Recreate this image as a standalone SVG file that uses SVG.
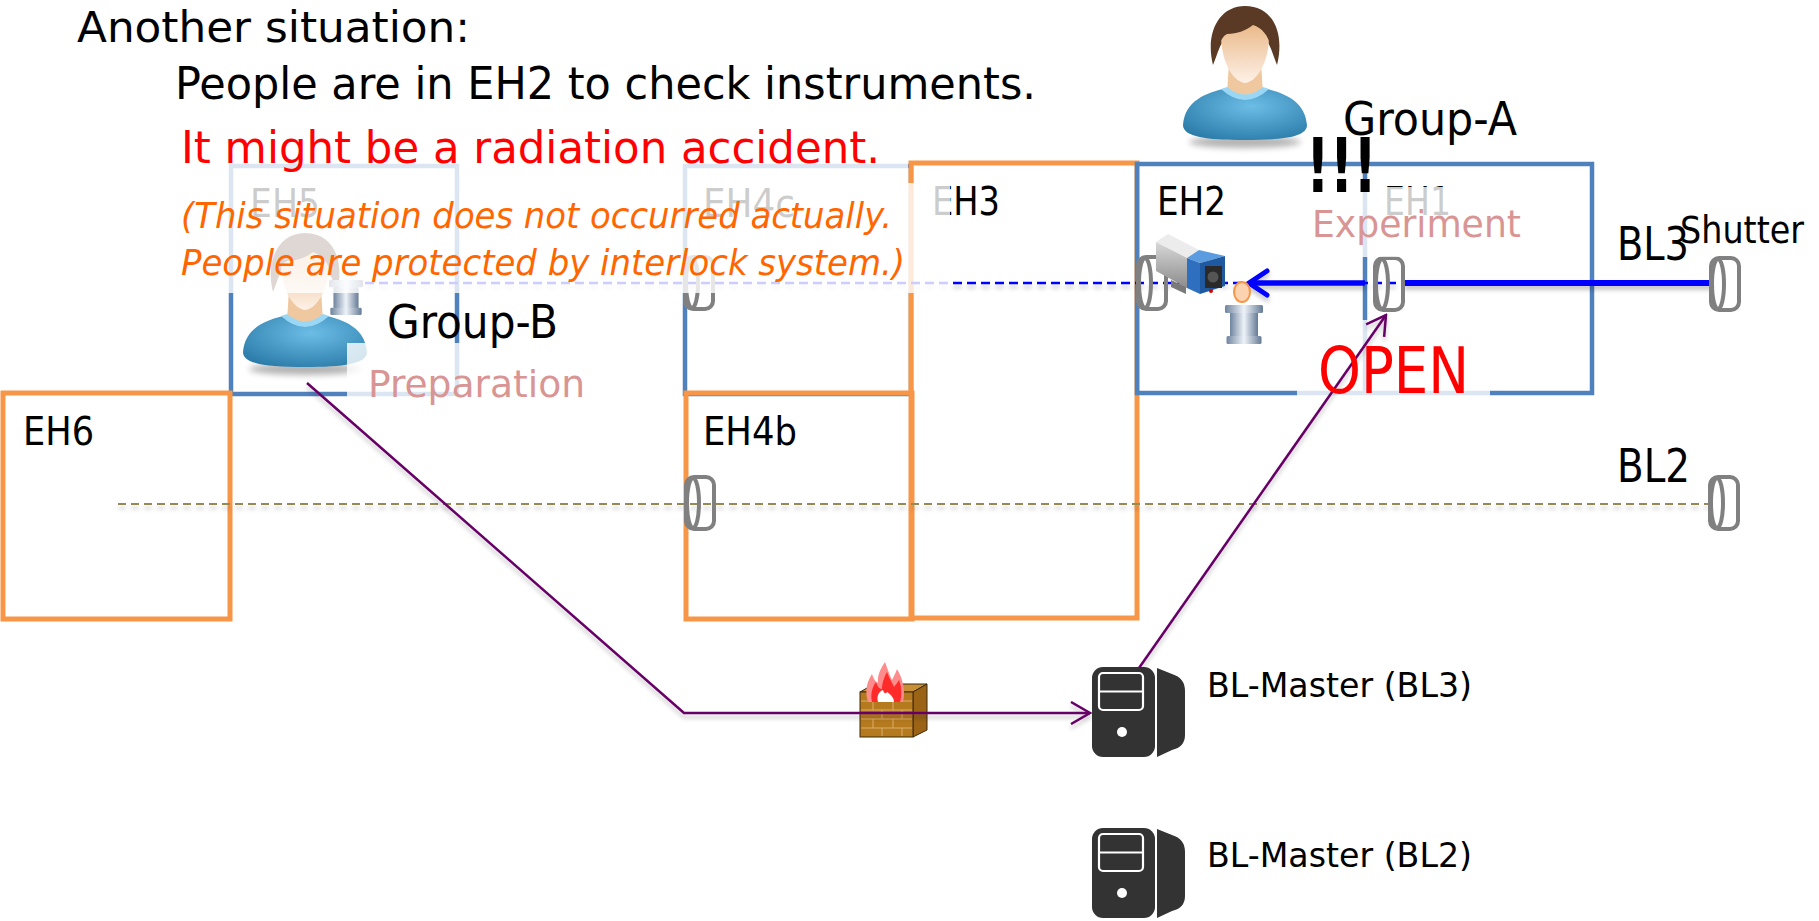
<svg xmlns="http://www.w3.org/2000/svg" xmlns:xlink="http://www.w3.org/1999/xlink" width="1819" height="921" viewBox="0 0 1819 921">
  <defs>
    <style>
      .sans { font-family: "DejaVu Sans Condensed", "DejaVu Sans", sans-serif; }
      .room-blue { fill: none; stroke: #4f81bd; stroke-width: 4.5; }
      .room-orange { fill: none; stroke: #f79646; stroke-width: 5; }
      .lbl { font-size: 39px; fill: #000; }
      .veil { fill: #fff; fill-opacity: 0.8; }
      .shutter { fill: none; stroke: #808080; stroke-width: 4; }
      .link { fill: none; stroke: #660066; stroke-width: 2.5; }
      .task { font-size: 38px; fill: #d99594; }
      .group { font-size: 46px; fill: #000; }
      .bl { font-size: 47px; fill: #000; }
      .master { font-size: 34px; fill: #000; }
    </style>

    <filter id="soft" filterUnits="userSpaceOnUse" x="0" y="0" width="1819" height="921">
      <feDropShadow dx="0" dy="4" stdDeviation="2" flood-color="#000" flood-opacity="0.22"/>
    </filter>
    <filter id="blur3" x="-20%" y="-100%" width="140%" height="300%">
      <feGaussianBlur stdDeviation="3"/>
    </filter>

    <radialGradient id="shirt" cx="0.55" cy="0.35" r="0.7">
      <stop offset="0" stop-color="#6cbde6"/>
      <stop offset="1" stop-color="#2d7dab"/>
    </radialGradient>
    <linearGradient id="skin" x1="0" y1="0" x2="0" y2="1">
      <stop offset="0" stop-color="#e8b37f"/>
      <stop offset="1" stop-color="#fdf1e7"/>
    </linearGradient>
    <linearGradient id="metal" x1="0" y1="0" x2="1" y2="0">
      <stop offset="0" stop-color="#6f849f"/>
      <stop offset="0.5" stop-color="#eef3f8"/>
      <stop offset="1" stop-color="#667b96"/>
    </linearGradient>
    <linearGradient id="camGray" x1="0" y1="0" x2="0" y2="1">
      <stop offset="0" stop-color="#d8d8d8"/>
      <stop offset="1" stop-color="#8c8c8c"/>
    </linearGradient>

    <!-- person: 124 x 148 -->
    <symbol id="person" viewBox="0 0 124 148" overflow="visible">
      <ellipse cx="62" cy="139" rx="56" ry="6" fill="#000" opacity="0.3" filter="url(#blur3)"/>
      <path d="M46,60 L78,60 L80,90 Q62,102 44,90 Z" fill="#f0c8a0"/>
      <path d="M0,122 C2,98 22,90 44,85 Q62,100 80,85 C102,90 122,98 124,122 C124,134 100,137 62,137 C24,137 0,134 0,122 Z" fill="url(#shirt)"/>
      <path d="M38,86 Q62,108 86,86 L80,84 Q62,99 44,84 Z" fill="#9ad7f5"/>
      <path d="M30,62 C22,30 36,3 62,3 C90,3 102,30 94,62 C90,52 88,44 84,38 L40,38 C36,44 34,52 30,62 Z" fill="#5a3a24"/>
      <path d="M38,32 C38,20 50,15 62,15 C76,15 86,21 86,33 C86,56 76,78 62,80 C48,78 38,56 38,32 Z" fill="url(#skin)"/>
      <path d="M36,42 C35,22 48,7 62,7 C78,7 90,22 88,44 C85,32 79,25 70,22 C64,27 54,31 44,31 C40,33 38,37 36,42 Z" fill="#5a3a24"/>
    </symbol>

    <!-- sample stand: 38 x 40 -->
    <symbol id="stand" viewBox="0 0 38 40" overflow="visible">
      <rect x="0" y="0" width="38" height="8" rx="1.5" fill="url(#metal)"/>
      <rect x="5" y="8" width="28" height="24" fill="url(#metal)"/>
      <rect x="1.5" y="31" width="35" height="8" rx="1.5" fill="url(#metal)"/>
    </symbol>

    <!-- beam shutter: 32 x 56 -->
    <symbol id="cyl" viewBox="0 0 32 56" overflow="visible">
      <rect class="shutter" x="2" y="2" width="28" height="52" rx="8"/>
      <ellipse class="shutter" cx="9" cy="28" rx="6" ry="25"/>
    </symbol>

    <!-- tower server: 93 x 90 -->
    <symbol id="server" viewBox="0 0 93 90" overflow="visible">
      <path d="M65,1 L80,7 Q93,11 93,24 L93,68 Q93,80 80,83 L65,90 Z" fill="#333"/>
      <rect x="0" y="0" width="63" height="90" rx="11" fill="#333"/>
      <rect x="7" y="6" width="44" height="37" rx="4" fill="none" stroke="#fff" stroke-width="2.2"/>
      <line x1="7" y1="24.5" x2="51" y2="24.5" stroke="#fff" stroke-width="2.2"/>
      <circle cx="30" cy="65" r="5" fill="#fff"/>
    </symbol>

    <marker id="headPurple" viewBox="0 0 22 24" refX="20" refY="12" markerWidth="22" markerHeight="24" markerUnits="userSpaceOnUse" orient="auto">
      <path d="M1,1 L20,12 L1,23" fill="none" stroke="#660066" stroke-width="2.5"/>
    </marker>
    <marker id="headBlue" viewBox="0 0 24 30" refX="21" refY="15" markerWidth="24" markerHeight="30" markerUnits="userSpaceOnUse" orient="auto">
      <path d="M3,3 L21,15 L3,27" fill="none" stroke="#0000ff" stroke-width="5" stroke-linecap="round"/>
    </marker>
  </defs>

  <rect width="1819" height="921" fill="#fff"/>

  <!-- experimental hutches -->
  <g id="rooms">
    <g id="EH5"><rect class="room-blue" x="231" y="166" width="226" height="228"/><text class="sans lbl" x="250" y="217" textLength="70" lengthAdjust="spacingAndGlyphs">EH5</text></g>
    <g id="EH4c"><rect class="room-blue" x="685" y="166" width="226" height="228"/><text class="sans lbl" x="703" y="217" textLength="92" lengthAdjust="spacingAndGlyphs">EH4c</text></g>
    <g id="EH6"><rect class="room-orange" x="3" y="393" width="227" height="226"/><text class="sans lbl" x="23" y="445" textLength="71" lengthAdjust="spacingAndGlyphs">EH6</text></g>
    <g id="EH4b"><rect class="room-orange" x="686" y="393" width="226" height="226"/><text class="sans lbl" x="703" y="445" textLength="94" lengthAdjust="spacingAndGlyphs">EH4b</text></g>
    <g id="EH3"><rect class="room-orange" x="911" y="163" width="226" height="455"/><text class="sans lbl" x="932" y="215" textLength="68" lengthAdjust="spacingAndGlyphs">EH3</text></g>
    <g id="EH2"><path class="room-blue" d="M1365,164 L1137,164 L1137,393 L1365,393"/><text class="sans lbl" x="1157" y="215" textLength="69" lengthAdjust="spacingAndGlyphs">EH2</text></g>
    <g id="EH1"><rect class="room-blue" x="1365" y="164" width="227" height="229"/><text class="sans lbl" x="1384" y="215" textLength="67" lengthAdjust="spacingAndGlyphs">EH1</text></g>
  </g>

  <!-- beamlines -->
  <g id="beams" filter="url(#soft)">
    <line x1="118" y1="504" x2="1709" y2="504" stroke="#948a54" stroke-width="2" stroke-dasharray="8 5"/>
    <line x1="365" y1="283" x2="1400" y2="283" stroke="#0000ff" stroke-width="2.5" stroke-dasharray="9 5"/>
    <line x1="1404" y1="283" x2="1712" y2="283" stroke="#0000ff" stroke-width="6"/>
    <line x1="1365" y1="283" x2="1249" y2="283" stroke="#0000ff" stroke-width="5.5" marker-end="url(#headBlue)"/>
  </g>

  <!-- shutters -->
  <g id="shutters">
    <use href="#cyl" x="683" y="255" width="32" height="56"/>
    <use href="#cyl" x="1136" y="255" width="32" height="56"/>
    <use href="#cyl" x="1373" y="256" width="32" height="56"/>
    <use href="#cyl" x="1709" y="256" width="32" height="56"/>
    <use href="#cyl" x="684" y="475" width="32" height="56"/>
    <use href="#cyl" x="1708" y="475" width="32" height="56"/>
  </g>

  <!-- people and instruments -->
  <g id="group-b-person"><use href="#person" x="243" y="230" width="124" height="148"/></g>
  <g id="stand-b"><use href="#stand" x="329" y="278" width="34" height="40"/></g>
  <g id="group-a-person"><use href="#person" x="1183" y="3" width="124" height="148"/></g>

  <g id="camera" transform="translate(1153,234)">
    <polygon points="3,8 15,0 46,16 34,24" fill="#ececec"/>
    <polygon points="3,8 34,24 34,54 3,37" fill="url(#camGray)"/>
    <polygon points="18,46 33,53 33,60 18,53" fill="#7a7a7a"/>
    <polygon points="34,24 46,16 72,22 47,29" fill="#5b9be0"/>
    <polygon points="34,24 47,29 47,60 34,54" fill="#2f6fbf"/>
    <polygon points="47,29 72,22 72,52 47,60" fill="#1f5aa0"/>
    <rect x="52" y="32" width="17" height="22" fill="#2a2a2a"/>
    <circle cx="60" cy="43" r="5.5" fill="#555"/>
    <circle cx="58" cy="57" r="2" fill="#d00"/>
  </g>

  <g id="sample">
    <use href="#stand" x="1225" y="305" width="38" height="40"/>
    <ellipse cx="1242" cy="292" rx="8" ry="10" fill="#fcd3b0" stroke="#f79646" stroke-width="2"/>
  </g>

  <g id="firewall">
    <polygon points="860,692 874,684 927,684 913,692" fill="#c98f35" stroke="#3a2a10" stroke-width="1"/>
    <polygon points="913,692 927,684 927,730 913,737" fill="#9a6316" stroke="#3a2a10" stroke-width="1"/>
    <rect x="860" y="692" width="53" height="45" fill="#b5791e" stroke="#3a2a10" stroke-width="1"/>
    <g stroke="#dcae6a" stroke-width="1">
      <line x1="861" y1="701" x2="912" y2="701"/>
      <line x1="861" y1="710" x2="912" y2="710"/>
      <line x1="861" y1="719" x2="912" y2="719"/>
      <line x1="861" y1="728" x2="912" y2="728"/>
      <line x1="873" y1="701" x2="873" y2="710"/><line x1="893" y1="701" x2="893" y2="710"/>
      <line x1="882" y1="710" x2="882" y2="719"/><line x1="902" y1="710" x2="902" y2="719"/>
      <line x1="873" y1="719" x2="873" y2="728"/><line x1="893" y1="719" x2="893" y2="728"/>
      <line x1="882" y1="728" x2="882" y2="736"/><line x1="902" y1="728" x2="902" y2="736"/>
    </g>
    <path d="M868,702 C864,690 868,680 872,674 C874,680 876,682 878,683 C877,675 881,668 885,662 C888,670 890,676 892,680 C894,676 896,672 897,669 C902,677 906,690 903,702 Z" fill="#ff8c8c"/>
    <path d="M872,702 C870,693 873,686 876,682 C878,688 880,689 882,689 C882,682 885,676 887,672 C890,680 893,684 894,687 C896,684 898,682 899,680 C902,688 902,696 900,702 Z" fill="#ff2a2a"/>
    <path d="M878,702 C876,695 880,691 883,690 C884,694 886,694 887,692 C890,694 894,697 894,702 Z" fill="#fff"/>
  </g>

  <g id="bl-master-bl3"><use href="#server" x="1092" y="667" width="93" height="90"/></g>
  <g id="bl-master-bl2"><use href="#server" x="1092" y="828" width="93" height="90"/></g>

  <!-- semi-transparent text backgrounds -->
  <g id="text-backs">
    <rect class="veil" x="175" y="125" width="733" height="58"/>
    <rect class="veil" x="175" y="183" width="775" height="110"/>
    <rect class="veil" x="347" y="343" width="253" height="67"/>
    <rect class="veil" x="1300" y="187" width="230" height="70"/>
    <rect class="veil" x="1297" y="320" width="193" height="80"/>
  </g>

  <!-- connectors -->
  <g id="connectors" filter="url(#soft)">
    <polyline class="link" points="307,383 684,713 1090,713" marker-end="url(#headPurple)"/>
    <line class="link" x1="1139" y1="668" x2="1386" y2="315" marker-end="url(#headPurple)"/>
  </g>

  <!-- captions -->
  <g id="captions" class="sans">
    <text x="77" y="42" font-size="42" fill="#000" textLength="393" lengthAdjust="spacingAndGlyphs">Another situation:</text>
    <text x="175" y="99" font-size="44" fill="#000" textLength="861" lengthAdjust="spacingAndGlyphs">People are in EH2 to check instruments.</text>
    <text x="181" y="163" font-size="44" fill="#ff0000" textLength="699" lengthAdjust="spacingAndGlyphs">It might be a radiation accident.</text>
    <text x="181" y="228" font-size="35" font-style="italic" fill="#ff6600" textLength="711" lengthAdjust="spacingAndGlyphs">(This situation does not occurred actually.</text>
    <text x="181" y="275" font-size="35" font-style="italic" fill="#ff6600" textLength="724" lengthAdjust="spacingAndGlyphs">People are protected by interlock system.)</text>
  </g>

  <g id="labels" class="sans">
    <text class="group" x="387" y="338" textLength="171" lengthAdjust="spacingAndGlyphs">Group-B</text>
    <text class="task" x="368" y="397" textLength="217" lengthAdjust="spacingAndGlyphs">Preparation</text>
    <text class="group" x="1343" y="135" textLength="174" lengthAdjust="spacingAndGlyphs">Group-A</text>
    <text x="1306" y="192" font-size="74" font-weight="bold" fill="#000" textLength="71" lengthAdjust="spacingAndGlyphs">!!!</text>
    <text class="task" x="1312" y="237" textLength="209" lengthAdjust="spacingAndGlyphs">Experiment</text>
    <text class="bl" x="1617" y="260" textLength="72" lengthAdjust="spacingAndGlyphs">BL3</text>
    <text x="1680" y="243" font-size="37" fill="#000" textLength="124" lengthAdjust="spacingAndGlyphs">Shutter</text>
    <text class="bl" x="1617" y="482" textLength="73" lengthAdjust="spacingAndGlyphs">BL2</text>
    <text x="1318" y="393" font-size="64" fill="#ff0000" textLength="151" lengthAdjust="spacingAndGlyphs">OPEN</text>
    <text class="master" x="1207" y="697" textLength="265" lengthAdjust="spacingAndGlyphs">BL-Master (BL3)</text>
    <text class="master" x="1207" y="867" textLength="265" lengthAdjust="spacingAndGlyphs">BL-Master (BL2)</text>
  </g>
</svg>
